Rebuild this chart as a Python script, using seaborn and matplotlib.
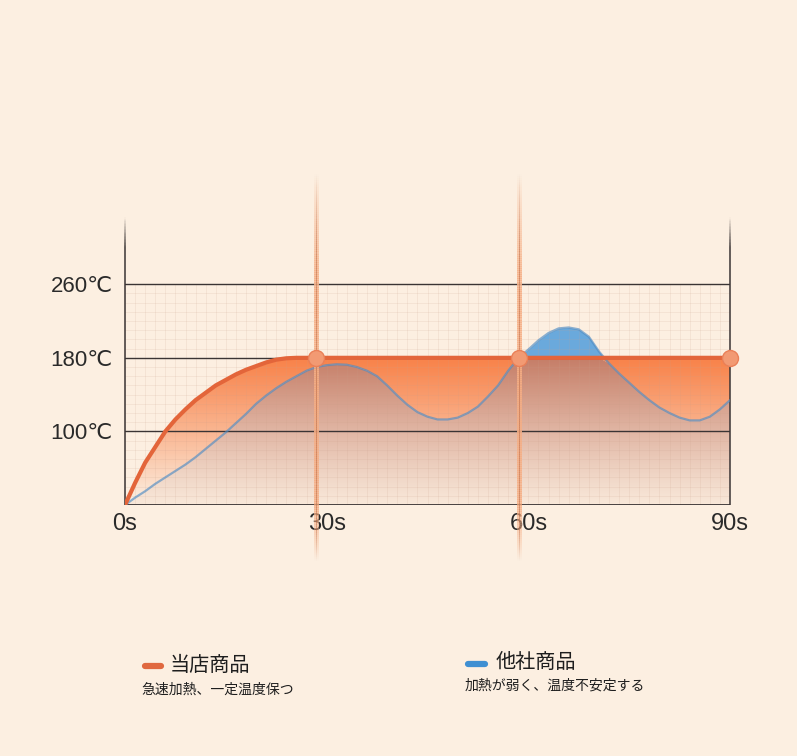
import numpy as np
import pandas as pd
import matplotlib.pyplot as plt
import seaborn as sns
from matplotlib.collections import LineCollection
from matplotlib.colors import to_rgb
from matplotlib.patches import PathPatch
from matplotlib.lines import Line2D

# data (time in s, temperature in C)
time_s = np.arange(0, 90.01, 1.5)
ours = [20, 44, 66, 83, 100, 113, 124, 134, 142, 150, 156, 162, 167, 171, 175,
        178, 179.5, 180] + [180] * 43
theirs = [20, 28, 35, 43, 50, 57, 64, 72, 81, 90,
          99, 109, 119, 130, 139, 147, 154, 160, 166, 170,
          172, 173, 172.5, 170, 166, 160, 150, 139, 129, 121,
          116, 113, 113, 115, 120, 127, 138, 150, 166, 179.5,
          189, 199, 207, 212, 213, 211, 203, 187, 174, 163,
          153, 143, 134, 126, 120, 115, 112, 112, 116, 124,
          134]
marker_t = [28.4, 58.6, 90]
marker_temp = [180, 180, 180]
x_ticks = [0, 30, 60, 90]
x_labels = ['0s', '30s', '60s', '90s']
y_ticks = [100, 180, 260]
y_labels = ['100℃', '180℃', '260℃']

df = pd.DataFrame({'t': time_s, 'ours': ours, 'theirs': theirs})

sns.set_theme(style='white')
plt.rcParams['font.family'] = ['Liberation Sans', 'DejaVu Sans', 'Noto Sans CJK JP']

bg = '#FCEFE1'
fig = plt.figure(figsize=(7.97, 7.56), dpi=100)
fig.patch.set_facecolor(bg)
ax = fig.add_axes([125 / 797, 1 - 505 / 756, 605 / 797, 287 / 756])
ax.set_facecolor(bg)
for s in ax.spines.values():
    s.set_visible(False)


def gradient_fill(x, lo, hi, rgb, alpha, zorder):
    poly = ax.fill_between(x, lo, hi, facecolor='none', edgecolor='none')
    patch = PathPatch(poly.get_paths()[0], transform=ax.transData,
                      facecolor='none', edgecolor='none')
    poly.remove()
    ax.add_patch(patch)
    img = np.zeros((256, 1, 4))
    img[..., :3] = rgb
    img[:, 0, 3] = alpha
    im = ax.imshow(img, extent=[0, 90, 20, 220], origin='lower', aspect='auto',
                   zorder=zorder, interpolation='bilinear')
    im.set_clip_path(patch)


yy = np.linspace(20, 220, 256)
t = df['t'].values
o = df['ours'].values
b = df['theirs'].values
low = np.minimum(o, b)

# orange area between the two curves
a_or = np.clip((yy - 25) / 150, 0, 1) ** 0.9
gradient_fill(t, low, o, (0.975, 0.52, 0.30), a_or, 1)
# brownish area under the weak curve
a_br = 0.06 + 0.84 * np.clip((yy - 20) / 160, 0, 1) ** 1.1
gradient_fill(t, 20, low, (0.75, 0.44, 0.35), a_br, 1.1)
# blue bump above 180
ax.fill_between(t, o, b, where=b > o, interpolate=True, color='#6AA9DC',
                lw=0, zorder=1.2)

# minor grid
for gx in np.arange(0, 90.01, 1.5):
    ax.plot([gx, gx], [20, 260], color='#C9A08A', lw=0.5, alpha=0.2, zorder=2)
for gy in np.arange(30, 260, 10):
    ax.plot([0, 90], [gy, gy], color='#C9A08A', lw=0.5, alpha=0.2, zorder=2)

# major lines
for gy in y_ticks:
    ax.plot([0, 90], [gy, gy], color='#3A3434', lw=1.0, zorder=3)
ax.plot([0, 90], [20, 20], color='#3A3434', lw=1.3, zorder=3)


def fade_vline(x, y0, y1, full0, full1, color, lw, amax, z):
    ys = np.linspace(y0, y1, 200)
    segs = [[(x, ys[i]), (x, ys[i + 1])] for i in range(len(ys) - 1)]
    mid = (ys[:-1] + ys[1:]) / 2
    a = np.ones_like(mid)
    a = np.where(mid > full1, 1 - (mid - full1) / (y1 - full1), a)
    a = np.where(mid < full0, 1 - (full0 - mid) / (full0 - y0), a)
    a = np.clip(a, 0, 1) * amax
    cols = [(*to_rgb(color), ai) for ai in a]
    lc = LineCollection(segs, colors=cols, linewidths=lw, zorder=z,
                        clip_on=False, capstyle='butt')
    ax.add_collection(lc)


# side axes
fade_vline(0, 20, 333, 20, 300, '#3A3434', 1.1, 1, 3)
fade_vline(90, 20, 333, 20, 300, '#3A3434', 1.1, 1, 3)

# highlighted time lines
for mx in marker_t[:2]:
    fade_vline(mx, -40, 380, 20, 270, '#F6AE84', 3.6, 0.9, 5)
    fade_vline(mx, -40, 380, 0, 300, '#B8653F', 0.7, 0.55, 5.1)

sns.lineplot(data=df, x='t', y='theirs', color='#4F8CC4', lw=1.6, alpha=0.65,
             ax=ax, zorder=4)
sns.lineplot(data=df, x='t', y='ours', color='#E3653A', lw=3.0, ax=ax, zorder=4.5)
ax.plot(marker_t, marker_temp, 'o', ms=11.5, color='#F29A73', mec='#EA8058',
        mew=1.0, zorder=6, clip_on=False)

ax.set_xlim(0, 90)
ax.set_ylim(20, 332)
ax.set_xticks(x_ticks)
ax.set_xticklabels(x_labels, fontsize=17, color='#2A2A2A')
ax.set_yticks(y_ticks)
ax.set_yticklabels(y_labels, fontsize=16, color='#2A2A2A')
ax.tick_params(axis='x', length=0, pad=6)
ax.tick_params(axis='y', length=0, pad=9)
ax.set_xlabel('')
ax.set_ylabel('')
ax.grid(False)

# legend block
jp = ['Noto Sans CJK JP', 'DejaVu Sans']
fig.add_artist(Line2D([145 / 797, 161 / 797], [1 - 666 / 756] * 2, lw=4.5,
                      color='#E0683F', solid_capstyle='round'))
fig.text(170 / 797, 1 - 665 / 756, '当店商品', family=jp, fontsize=14.5,
         va='center', ha='left', color='#1E1E1E')
fig.text(141 / 797, 1 - 690 / 756, '急速加熱、一定温度保つ', family=jp, fontsize=10,
         va='center', ha='left', color='#1E1E1E')
fig.add_artist(Line2D([468 / 797, 485 / 797], [1 - 664 / 756] * 2, lw=4.5,
                      color='#3F8FD2', solid_capstyle='round'))
fig.text(496 / 797, 1 - 662 / 756, '他社商品', family=jp, fontsize=14.5,
         va='center', ha='left', color='#1E1E1E')
fig.text(465 / 797, 1 - 686 / 756, '加熱が弱く、温度不安定する', family=jp, fontsize=10,
         va='center', ha='left', color='#1E1E1E')

fig.savefig('out.png', dpi=100, facecolor=bg)
